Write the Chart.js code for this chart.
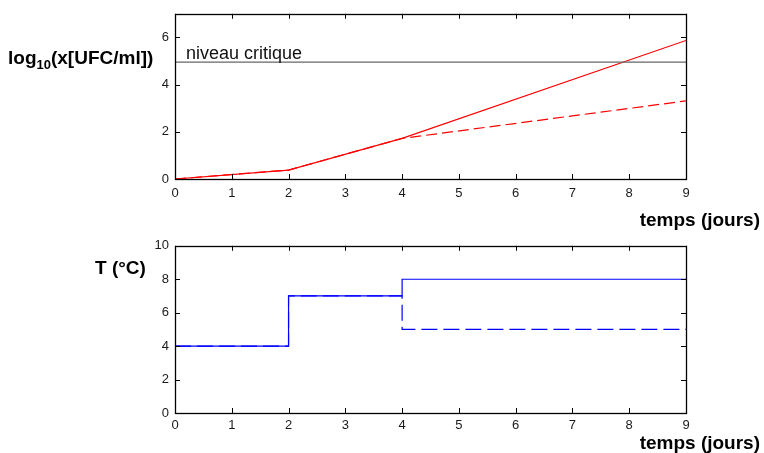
<!DOCTYPE html>
<html>
<head>
<meta charset="utf-8">
<script src="https://cdn.jsdelivr.net/npm/chart.js@4/dist/chart.umd.min.js"></script>
<style>
  html, body { margin: 0; padding: 0; background: #fff; }
  #wrap { position: relative; width: 764px; height: 453px; overflow: hidden; }
  canvas { position: absolute; left: 0; }
  #c1 { top: 0; }
  #c2 { top: 232px; }
</style>
</head>
<body>
<div id="wrap">
  <canvas id="c1" width="764" height="232"></canvas>
  <canvas id="c2" width="764" height="221"></canvas>
</div>
<script>
// ---- data ----
const days = [0, 2, 4, 9];
const logSolid = [0, 0.38, 1.72, 5.87];
const logDashed = [0, 0.38, 1.72, 3.31];
const criticalLevel = 4.95;
const criticalLabel = "niveau critique";
const tempDays = [0, 2, 4, 9];
const tempSolid = [4, 7, 8, 8];
const tempDashed = [4, 7, 5, 5];
const xTicks = [0, 1, 2, 3, 4, 5, 6, 7, 8, 9];
const logTicks = [0, 2, 4, 6];
const tempTicks = [0, 2, 4, 6, 8, 10];
const xTitle = "temps (jours)";
const logTitleMain = "log";
const logTitleSub = "10";
const logTitleRest = "(x[UFC/ml])";
const tempTitle = "T (°C)";

const FONT = "'Liberation Sans', Arial, Helvetica, sans-serif";
const pts = (xs, ys) => xs.map((x, i) => ({ x: x, y: ys[i] }));

// frame with inward ticks on all four sides (MATLAB style)
const framePlugin = {
  id: 'frame',
  afterDatasetsDraw(chart) {
    const { ctx, chartArea: a, scales } = chart;
    const L = 5;
    ctx.save();
    ctx.strokeStyle = '#000';
    ctx.lineWidth = 1;
    ctx.beginPath();
    scales.x.ticks.forEach(t => {
      const px = Math.round(scales.x.getPixelForValue(t.value)) + 0.5;
      ctx.moveTo(px, a.bottom); ctx.lineTo(px, a.bottom - L);
      ctx.moveTo(px, a.top); ctx.lineTo(px, a.top + L);
    });
    scales.y.ticks.forEach(t => {
      const py = Math.round(scales.y.getPixelForValue(t.value)) + 0.5;
      ctx.moveTo(a.left, py); ctx.lineTo(a.left + L, py);
      ctx.moveTo(a.right, py); ctx.lineTo(a.right - L, py);
    });
    ctx.stroke();
    ctx.lineWidth = 1.3;
    ctx.strokeRect(Math.round(a.left) + 0.5, Math.round(a.top) + 0.5,
                   Math.round(a.right - a.left), Math.round(a.bottom - a.top));
    ctx.restore();
  }
};

function baseScales(yMin, yMax, yTickList, xHeight, xPad) {
  const tickFont = { family: FONT, size: 13 };
  return {
    x: {
      type: 'linear', min: 0, max: 9,
      afterBuildTicks: s => { s.ticks = xTicks.map(v => ({ value: v })); },
      grid: { display: false, drawTicks: false },
      border: { display: false },
      ticks: { font: tickFont, color: '#1a1a1a', padding: xPad, maxRotation: 0, autoSkip: false },
      afterFit: s => { s.height = xHeight; }
    },
    y: {
      type: 'linear', min: yMin, max: yMax,
      afterBuildTicks: s => { s.ticks = yTickList.map(v => ({ value: v })); },
      grid: { display: false, drawTicks: false },
      border: { display: false },
      ticks: { font: tickFont, color: '#1a1a1a', padding: 6, autoSkip: false },
      afterFit: s => { s.width = 175; }
    }
  };
}

// ---- top chart: growth ----
const topLabels = {
  id: 'topLabels',
  afterDraw(chart) {
    const { ctx, chartArea: a, scales } = chart;
    ctx.save();
    ctx.fillStyle = '#000';
    ctx.textBaseline = 'alphabetic';
    // y title with subscript
    let x = 8;
    ctx.font = "bold 19px " + FONT;
    ctx.fillText(logTitleMain, x, 64);
    x += ctx.measureText(logTitleMain).width;
    ctx.font = "bold 13px " + FONT;
    ctx.fillText(logTitleSub, x, 69);
    x += ctx.measureText(logTitleSub).width;
    ctx.font = "bold 19px " + FONT;
    ctx.fillText(logTitleRest, x, 64);
    // x title
    ctx.textAlign = 'right';
    ctx.fillText(xTitle, 760, 226);
    // critical label
    ctx.textAlign = 'left';
    ctx.font = "18px " + FONT;
    ctx.fillStyle = '#111';
    ctx.fillText(criticalLabel, a.left + 11, scales.y.getPixelForValue(criticalLevel) - 3);
    ctx.restore();
  }
};

new Chart(document.getElementById('c1'), {
  type: 'line',
  data: {
    datasets: [
      { data: pts([0, 9], [criticalLevel, criticalLevel]), borderColor: '#666', borderWidth: 1.3, pointRadius: 0 },
      { data: pts(days, logDashed), borderColor: '#ff0000', borderWidth: 1.2, borderDash: [11, 5], pointRadius: 0 },
      { data: pts(days, logSolid), borderColor: '#ff0000', borderWidth: 1.2, pointRadius: 0 }
    ]
  },
  options: {
    responsive: false, animation: false, devicePixelRatio: 1,
    layout: { padding: { top: 12, right: 78, left: 0, bottom: 0 } },
    plugins: { legend: { display: false }, tooltip: { enabled: false } },
    scales: baseScales(0, 7, logTicks, 53, 7)
  },
  plugins: [framePlugin, topLabels]
});

// ---- bottom chart: temperature ----
const bottomLabels = {
  id: 'bottomLabels',
  afterDraw(chart) {
    const { ctx } = chart;
    ctx.save();
    ctx.fillStyle = '#000';
    ctx.textBaseline = 'alphabetic';
    ctx.font = "bold 19px " + FONT;
    ctx.textAlign = 'left';
    ctx.fillText(tempTitle, 95, 274 - 232);
    ctx.textAlign = 'right';
    ctx.fillText(xTitle, 760, 449 - 232);
    ctx.restore();
  }
};

new Chart(document.getElementById('c2'), {
  type: 'line',
  data: {
    datasets: [
      { data: pts(tempDays, tempDashed), borderColor: '#0000ff', borderWidth: 1.2, borderDash: [16, 6], stepped: true, pointRadius: 0 },
      { data: pts(tempDays, tempSolid), borderColor: '#0000ff', borderWidth: 1.2, stepped: true, pointRadius: 0 }
    ]
  },
  options: {
    responsive: false, animation: false, devicePixelRatio: 1,
    layout: { padding: { top: 11, right: 78, left: 0, bottom: 0 } },
    plugins: { legend: { display: false }, tooltip: { enabled: false } },
    scales: baseScales(0, 10, tempTicks, 40, 5)
  },
  plugins: [framePlugin, bottomLabels]
});
</script>
</body>
</html>
